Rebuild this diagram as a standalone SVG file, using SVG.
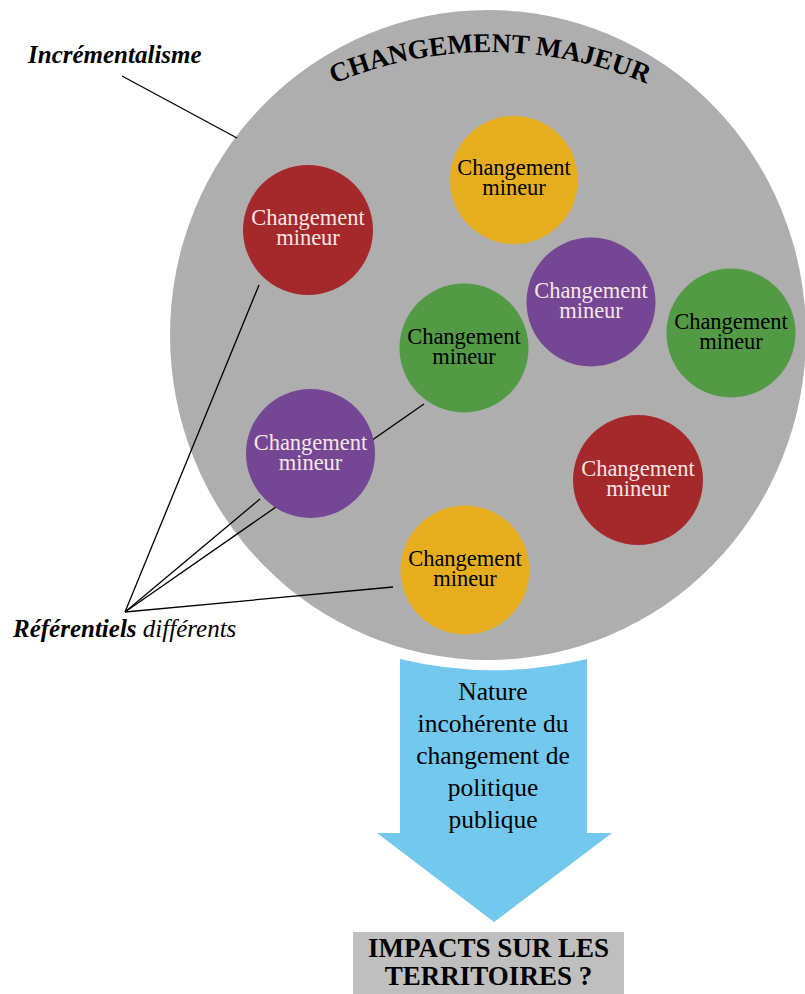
<svg xmlns="http://www.w3.org/2000/svg" width="805" height="994" viewBox="0 0 805 994">
<style>
.ser{font-family:"Liberation Serif","Times New Roman",serif}
.node text{font-family:"Liberation Serif","Times New Roman",serif;font-size:22.5px;text-anchor:middle}
.lt{fill:#f6e6e6}
.dk{fill:#000}
.conn line{stroke:#000;stroke-width:1.3}
</style>
<defs>
<path id="arcTitle" d="M190,187 A401,401 0 0 1 790,187"/>
</defs>
<rect width="805" height="994" fill="#fff"/>
<g id="major">
<ellipse cx="488" cy="335" rx="318" ry="325" fill="#aeaeae"/>
<text class="ser" font-size="27" font-weight="bold" text-anchor="middle"><textPath href="#arcTitle" startOffset="50%">CHANGEMENT MAJEUR</textPath></text>
</g>
<g class="conn" id="connectors">
<line x1="122" y1="76" x2="237" y2="138"/>
<line x1="125" y1="612" x2="259" y2="285"/>
<line x1="125" y1="612" x2="260" y2="499"/>
<line x1="125" y1="612" x2="424" y2="404"/>
<line x1="125" y1="612" x2="393" y2="587"/>
</g>
<g class="node" id="n1"><circle cx="308" cy="230" r="65" fill="#a5282a"/><text class="lt" x="308" y="225">Changement</text><text class="lt" x="308" y="245">mineur</text></g>
<g class="node" id="n2"><circle cx="514" cy="180" r="64" fill="#e6ae1e"/><text class="dk" x="514" y="175">Changement</text><text class="dk" x="514" y="195">mineur</text></g>
<g class="node" id="n3"><circle cx="591" cy="302" r="64.5" fill="#744694"/><text class="lt" x="591" y="298">Changement</text><text class="lt" x="591" y="318">mineur</text></g>
<g class="node" id="n4"><circle cx="731" cy="333" r="64.5" fill="#529a44"/><text class="dk" x="731" y="329">Changement</text><text class="dk" x="731" y="349">mineur</text></g>
<g class="node" id="n5"><circle cx="464" cy="348" r="64.5" fill="#529a44"/><text class="dk" x="464" y="344">Changement</text><text class="dk" x="464" y="364">mineur</text></g>
<g class="node" id="n6"><circle cx="310.5" cy="453.5" r="64.5" fill="#744694"/><text class="lt" x="310.5" y="449.5">Changement</text><text class="lt" x="310.5" y="469.5">mineur</text></g>
<g class="node" id="n7"><circle cx="638" cy="480" r="65" fill="#a5282a"/><text class="lt" x="638" y="476">Changement</text><text class="lt" x="638" y="496">mineur</text></g>
<g class="node" id="n8"><circle cx="465" cy="570" r="64.5" fill="#e6ae1e"/><text class="dk" x="465" y="566">Changement</text><text class="dk" x="465" y="586">mineur</text></g>
<g id="lbl-incr"><text class="ser" x="28" y="63" font-size="25" font-weight="bold" font-style="italic">Incrémentalisme</text></g>
<g id="lbl-ref"><text class="ser" x="13" y="637" font-size="25" font-style="italic"><tspan font-weight="bold">Référentiels</tspan> différents</text></g>
<g id="arrow">
<path d="M400,659 A400,400 0 0 0 587,659 L587,833 L612,833 L494,922 L377,833 L400,833 Z" fill="#73c8ee"/>
<text class="ser" font-size="25.5" text-anchor="middle"><tspan x="493" y="700">Nature</tspan><tspan x="493" y="732">incohérente du</tspan><tspan x="493" y="764">changement de</tspan><tspan x="493" y="796">politique</tspan><tspan x="493" y="828">publique</tspan></text>
</g>
<g id="impacts">
<rect x="353" y="932" width="271" height="70" fill="#bfbfbf"/>
<text class="ser" font-size="27" font-weight="bold" text-anchor="middle"><tspan x="488.5" y="957">IMPACTS SUR LES</tspan><tspan x="488.5" y="985">TERRITOIRES ?</tspan></text>
</g>
</svg>
